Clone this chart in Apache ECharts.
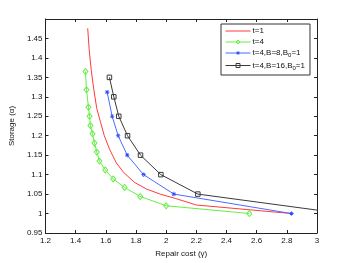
<!DOCTYPE html>
<html><head><meta charset="utf-8">
<script src="https://cdn.jsdelivr.net/npm/echarts@6/dist/echarts.min.js"></script>
<style>html,body{margin:0;padding:0;background:#fff}#c{width:349px;height:263px}</style>
</head><body><div id="c"></div>
<script>
// t=1 (red line)
const t1X = [1.48,1.49,1.503,1.52,1.54,1.565,1.59,1.625,1.67,1.72,1.79,1.87,1.96,2.06,2.2,2.83];
const t1Y = [1.476,1.42,1.37,1.32,1.27,1.235,1.2,1.165,1.13,1.105,1.08,1.063,1.05,1.039,1.022,1.0];
// t=4 (green diamonds)
const t4X = [1.465,1.472,1.485,1.492,1.498,1.512,1.525,1.54,1.558,1.596,1.649,1.724,1.828,2.0,2.551];
const t4Y = [1.365,1.318,1.273,1.25,1.226,1.205,1.181,1.158,1.135,1.112,1.089,1.067,1.044,1.02,1.0];
// t=4,B=8,B0=1 (blue stars)
const b8X = [1.609,1.642,1.682,1.742,1.85,2.051,2.831];
const b8Y = [1.312,1.25,1.2,1.15,1.1,1.05,1.0];
// t=4,B=16,B0=1 (black squares)
const b16X = [1.624,1.653,1.686,1.744,1.83,1.965,2.21,3.17];
const b16Y = [1.35,1.3,1.25,1.2,1.15,1.1,1.05,1.0];

const names = ['t=1','t=4','t=4,B=8,B_0=1','t=4,B=16,B_0=1'];
const xLabel = 'Repair cost (\u03b3)';
const yLabel = 'Storage (\u03b1)';

const zip = (xs, ys) => xs.map((x, i) => [x, ys[i]]);
const FONT = 'Liberation Sans';
const star = 'path://M-1,-0.15L1,-0.15L1,0.15L-1,0.15Z M-0.15,-1L0.15,-1L0.15,1L-0.15,1Z M-0.594,-0.806L0.806,0.594L0.594,0.806L-0.806,-0.594Z M-0.594,0.806L0.806,-0.594L0.594,-0.806L-0.806,0.594Z';
const RED = '#ff3a3a', GREEN = '#66ee44', BLUE = '#4a6cff', BLACK = '#3a3a3a';

const chart = echarts.init(document.getElementById('c'), null, {renderer: 'canvas'});
const axisCommon = {
  axisLine: {show: true, onZero: false, lineStyle: {color: '#222', width: 1}},
  axisTick: {show: true, inside: true, length: 3, lineStyle: {color: '#222'}},
  splitLine: {show: false},
  axisLabel: {color: '#111', fontSize: 8, fontFamily: FONT}
};
const hollow = c => ({color: 'rgba(255,255,255,0)', borderColor: c, borderWidth: 1});
chart.setOption({
  animation: false,
  grid: {left: 45, top: 19, right: 32, bottom: 30, containLabel: false},
  xAxis: [
    Object.assign({}, axisCommon, {type: 'value', min: 1.2, max: 3, interval: 0.2, position: 'bottom',
      name: xLabel, nameLocation: 'middle', nameGap: 13,
      nameTextStyle: {color: '#111', fontSize: 8, fontFamily: FONT},
      axisLabel: Object.assign({}, axisCommon.axisLabel, {margin: 4, formatter: v => String(+v.toFixed(2))})}),
    Object.assign({}, axisCommon, {type: 'value', min: 1.2, max: 3, interval: 0.2, position: 'top',
      axisLabel: {show: false}})
  ],
  yAxis: [
    Object.assign({}, axisCommon, {type: 'value', min: 0.95, max: 1.5, interval: 0.05, position: 'left',
      name: yLabel, nameLocation: 'middle', nameGap: 24,
      nameTextStyle: {color: '#111', fontSize: 8, fontFamily: FONT},
      axisLabel: Object.assign({}, axisCommon.axisLabel, {margin: 3,
        formatter: v => Math.abs(v - 1.5) < 1e-6 ? '' : String(+v.toFixed(2))})}),
    Object.assign({}, axisCommon, {type: 'value', min: 0.95, max: 1.5, interval: 0.05, position: 'right',
      axisLabel: {show: false}})
  ],
  legend: {
    orient: 'vertical', left: 221, top: 24,
    backgroundColor: '#fff', borderColor: '#333', borderWidth: 1,
    padding: [3, 5, 4, 4], itemGap: 3, itemWidth: 25, itemHeight: 5,
    lineStyle: {width: 1},
    data: [
      {name: names[0], itemStyle: {color: 'rgba(0,0,0,0)', borderWidth: 0}},
      {name: names[1], itemStyle: hollow(GREEN)},
      {name: names[2], itemStyle: {color: '#2244ff'}},
      {name: names[3], itemStyle: hollow(BLACK)}
    ],
    formatter: n => {
      const i = n.indexOf('_0');
      if (i < 0) return '{a|' + n + '}';
      return '{a|' + n.slice(0, i) + '}{s|0}{a|' + n.slice(i + 2) + '}';
    },
    textStyle: {fontFamily: FONT, fontSize: 8, color: '#111', padding: [0, 0, 0, -3],
      rich: {a: {fontFamily: FONT, fontSize: 8, color: '#111'},
             s: {fontFamily: FONT, fontSize: 6, color: '#111', padding: [5, 0, 0, 0]}}}
  },
  series: [
    {name: names[0], type: 'line', data: zip(t1X, t1Y), showSymbol: false, symbol: 'none',
     lineStyle: {color: RED, width: 1}, itemStyle: {color: RED}},
    {name: names[1], type: 'line', data: zip(t4X, t4Y), symbol: 'diamond', symbolSize: [5, 6],
     lineStyle: {color: GREEN, width: 1}, itemStyle: hollow(GREEN)},
    {name: names[2], type: 'line', data: zip(b8X, b8Y), symbol: star, symbolSize: 4.5,
     lineStyle: {color: BLUE, width: 1}, itemStyle: {color: '#2244ff'}},
    {name: names[3], type: 'line', data: zip(b16X, b16Y), symbol: 'rect', symbolSize: 4.5,
     lineStyle: {color: BLACK, width: 1}, itemStyle: hollow(BLACK)}
  ]
});
</script></body></html>
